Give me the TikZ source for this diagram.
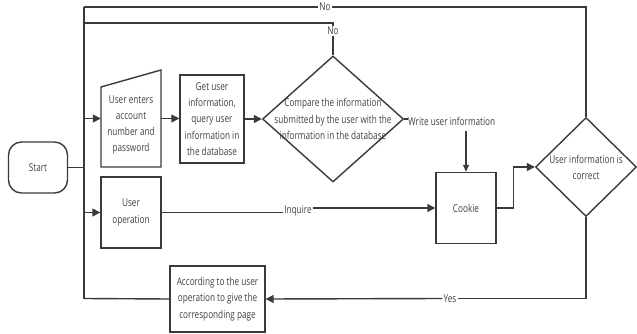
\documentclass[tikz,border=0pt]{standalone}
\usepackage{fontspec}
\setmainfont{Open Sans}[FakeStretch=0.76]
\usetikzlibrary{shapes.geometric,arrows.meta}
\definecolor{lc}{HTML}{3A3A3A}
\definecolor{tc}{HTML}{404040}
\newcommand{\fs}{\fontsize{10.8}{16.2}\selectfont}
\begin{document}
\begin{tikzpicture}[x=1pt,y=-1pt,
  line/.style={draw=lc, line width=1.4pt},
  arr/.style={line, -{Triangle[length=8pt,width=8pt]}},
  arrs/.style={line, line width=1.1pt, -{Triangle[length=7pt,width=6pt]}},
  box/.style={draw=lc, line width=1.4pt, inner sep=0pt, align=center, font=\fs, text=tc},
  txt/.style={inner sep=0pt, align=center, font=\fs, text=tc},
  lbl/.style={fill=white, inner sep=1pt, font=\fs, text=tc},
  dia/.style={diamond, draw=lc, line width=1.4pt, inner sep=0pt}]
\useasboundingbox (0,0) rectangle (637,334);

% nodes
\node[box, rounded corners=13pt, minimum width=59pt, minimum height=51pt] (start) at (38,167.5) {Start};
\node[inner sep=0pt, minimum width=60pt, minimum height=97pt] (input) at (131,118.5) {};
\draw[line, line join=miter] (101,87) -- (161,70) -- (161,167) -- (101,167) -- cycle;
\node[txt] (inputtxt) at (131,125) {User enters\\account\\number and\\password};
\node[box, minimum width=64pt, minimum height=88pt] (get) at (212,119) {Get user\\information,\\query user\\information in\\the database};
\node[dia, minimum width=141pt, minimum height=126pt] (d1) at (333,119) {};
\node[txt] (d1txt) at (333,119) {Compare the information\\submitted by the user with the\\information in the database};
\node[txt, anchor=west] (write) at (408,121) {Write user information};
\coordinate (wdown) at (466,131);
\node[box, minimum width=60pt, minimum height=71pt] (cookie) at (466,208) {Cookie};
\node[box, minimum width=60pt, minimum height=71pt] (uop) at (131,212.5) {User\\operation};
\node[lbl] (inq) at (298,210.5) {Inquire};
\node[dia, minimum width=101pt, minimum height=99pt] (d2) at (586,167) {};
\node[txt] (d2txt) at (586,167.5) {User information is\\correct};
\node[box, minimum width=95pt, minimum height=66pt] (page) at (217.5,299) {According to the user\\operation to give the\\corresponding page};
\node[lbl] (yes) at (450,298.5) {Yes};
\node[lbl] (no1) at (325,7) {No};
\node[lbl, inner sep=0.5pt] (no2) at (333,31) {No};

% coordinates of the left bus
\coordinate (tl) at (84,7);
\coordinate (tl2) at (84,23);
\coordinate (bl) at (84,298.5);

% connectors
\draw[line] (tl) -- (bl);
\draw[line] (start.east) -- (start.east -| bl);
\draw[arr] (bl |- input.west) -- (input.west);
\draw[arr] (bl |- uop.west) -- (uop.west);
\draw[arr] (input.east) -- (input.east -| get.west);
\draw[arr] (get.east) -- (get.east -| d1.west);
\draw[line] (d1.east) -- (d1.east -| write.west);
\draw[arrs] (wdown) -- (cookie.north);
\draw[line] (uop.east) -- (uop.east -| inq.west);
\draw[arr] (inq.east |- cookie.west) -- (cookie.west);
\draw[arr] (cookie.east) -- ++(17,0) |- (d2.west);
\draw[line] (d2.south) |- (yes.east);
\draw[arr] (yes.west) -- (page.east);
\draw[line] (page.west) -- (bl);
\draw[line] (d2.north) |- (no1.east);
\draw[line] (no1.west) -- (tl);
\draw[line] (d1.north) -- (no2.south);
\draw[line] (no2.north) |- (tl2);
\end{tikzpicture}
\end{document}
